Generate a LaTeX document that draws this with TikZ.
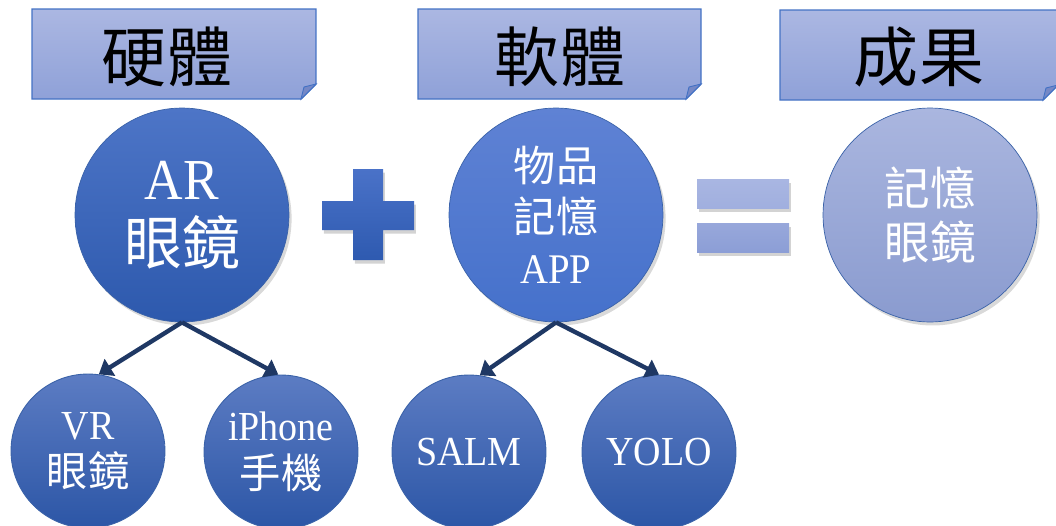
\documentclass[tikz,border=0pt]{standalone}
\usepackage{fontspec}
\setmainfont{Liberation Serif}[FakeStretch=0.92]
\newfontfamily\cjk{Noto Sans CJK TC}
\usetikzlibrary{arrows.meta,shadows}
\definecolor{hdrtop}{HTML}{ABB7E2}
\definecolor{hdrbot}{HTML}{8FA1D8}
\definecolor{hdrline}{HTML}{4472C4}
\definecolor{foldc}{HTML}{7588C6}
\definecolor{arrowc}{HTML}{1F3864}
\definecolor{cborder}{HTML}{3A62A8}
\definecolor{artop}{HTML}{4D75C7}
\definecolor{arbot}{HTML}{2D59AD}
\definecolor{apptop}{HTML}{5F82D4}
\definecolor{appbot}{HTML}{4571CB}
\definecolor{smtop}{HTML}{5C7CC3}
\definecolor{smbot}{HTML}{2C56A6}
\definecolor{restop}{HTML}{AAB6DF}
\definecolor{resbot}{HTML}{8A9BCF}
\definecolor{plustop}{HTML}{4A72C8}
\definecolor{plusbot}{HTML}{2E5AB0}
\definecolor{eqtop}{HTML}{A9B6E2}
\definecolor{eqbot}{HTML}{8C9ED6}
\begin{document}
\begin{tikzpicture}[x=0.02cm,y=-0.02cm,
  hdrbox/.style={top color=hdrtop,bottom color=hdrbot,draw=hdrline,line width=0.8pt},
  foldtri/.style={fill=foldc,draw=hdrline,line width=0.5pt},
  hdrtext/.style={inner sep=0pt,font=\cjk\fontsize{37}{40}\selectfont,text=black},
  bigc/.style={circle,minimum size=4.28cm,inner sep=0pt,draw=cborder,line width=0.4pt,
    text=white,align=center,
    drop shadow={opacity=0.3,shadow xshift=1.5pt,shadow yshift=-2pt}},
  smallc/.style={circle,minimum size=3.08cm,inner sep=0pt,draw=cborder,line width=0.5pt,
    top color=smtop,bottom color=smbot,text=white,align=center,
    font=\fontsize{23.5}{27}\selectfont},
  conn/.style={draw=arrowc,line width=2.5pt,-{Triangle[length=7.5pt,width=11pt]}},
  signshape/.style={drop shadow={opacity=0.35,shadow xshift=1pt,shadow yshift=-2pt}}]
\clip (0,0) rectangle (1056,525);
% header boxes
\shade[hdrbox] (32,9) -- (316,9) -- (316,84) -- (301,99) -- (32,99) -- cycle;
\filldraw[foldtri] (301,99) -- (304,87) -- (316,84) -- cycle;
\shade[hdrbox] (418,9) -- (701,9) -- (701,84) -- (686,99) -- (418,99) -- cycle;
\filldraw[foldtri] (686,99) -- (689,87) -- (701,84) -- cycle;
\shade[hdrbox] (780,10) -- (1058,10) -- (1058,85) -- (1043,100) -- (780,100) -- cycle;
\filldraw[foldtri] (1043,100) -- (1046,88) -- (1058,85) -- cycle;
\node[hdrtext] (h1) at (167,57) {硬體};
\node[hdrtext] (h2) at (560,57) {軟體};
\node[hdrtext] (h3) at (919,57) {成果};
% big circles
\node[bigc,top color=artop,bottom color=arbot,font=\fontsize{33}{37}\selectfont] (ar) at (182,215) {AR\\{\cjk 眼鏡}};
\node[bigc,top color=apptop,bottom color=appbot,font=\fontsize{24}{29}\selectfont] (app) at (556,215) {{\cjk 物品}\\{\cjk 記憶}\\APP};
\node[bigc,top color=restop,bottom color=resbot,font=\cjk\fontsize{26}{31}\selectfont] (res) at (930,215) {記憶\\眼鏡};
% plus
\shade[signshape,top color=plustop,bottom color=plusbot] (353,169) -- (383,169) -- (383,201) -- (414,201) -- (414,230) -- (383,230) -- (383,260) -- (353,260) -- (353,230) -- (322,230) -- (322,201) -- (353,201) -- cycle;
% equal
\shade[signshape,top color=eqtop,bottom color=eqtop!70!eqbot] (697,179) rectangle (789,208);
\shade[signshape,top color=eqtop!40!eqbot,bottom color=eqbot] (697,223) rectangle (789,252);
% small circles
\node[smallc] (vr) at (88,451) {VR\\{\cjk 眼鏡}};
\node[smallc] (iph) at (281,452) {iPhone\\{\cjk 手機}};
\node[smallc] (salm) at (469,452) {SALM};
\node[smallc] (yolo) at (659,452) {YOLO};
% connectors
\draw[conn] (ar.south) -- (vr.82);
\draw[conn] (ar.south) -- (iph.92);
\draw[conn] (app.south) -- (salm.82);
\draw[conn] (app.south) -- (yolo.90);
\end{tikzpicture}
\end{document}
